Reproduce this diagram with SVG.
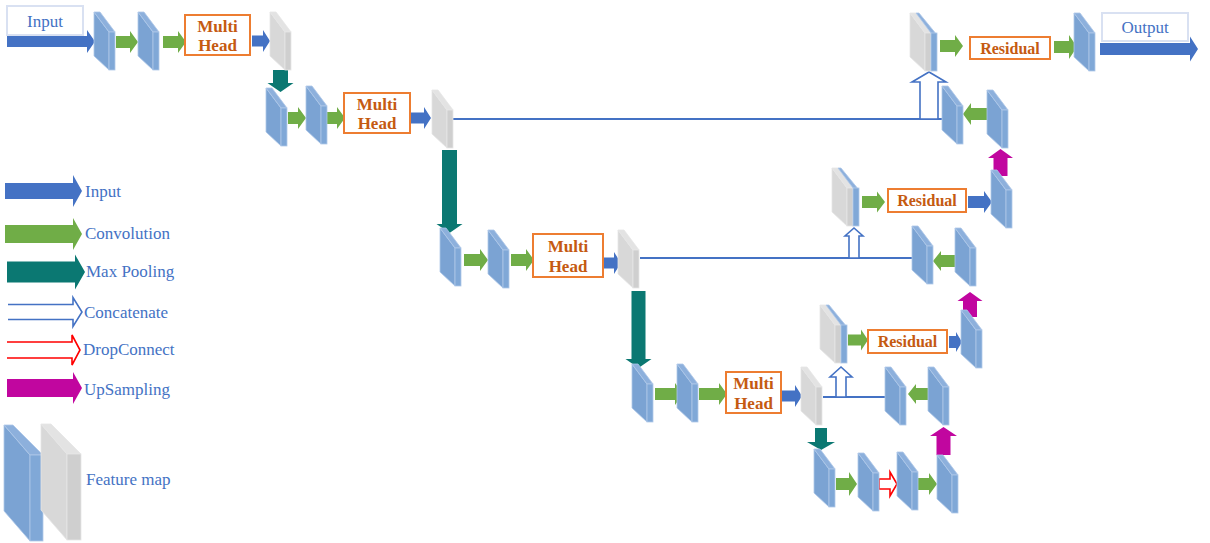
<svg xmlns="http://www.w3.org/2000/svg" xmlns:xlink="http://www.w3.org/1999/xlink" width="1210" height="543" viewBox="0 0 1210 543">
<style>
.blue{fill:#4472C4}
.green{fill:#70AD47}
.teal{fill:#0B7872}
.mag{fill:#C1069F}
.cat{fill:#fff;stroke:#4472C4;stroke-width:1.6}
.drop{fill:#fff;stroke:#FF0000;stroke-width:1.6}
.box{fill:#fff;stroke:#ED7D31;stroke-width:2}
.iobox{fill:#fff;stroke:#D9E1F2;stroke-width:2}
.bt{font-family:"Liberation Serif","Times New Roman",serif;font-weight:bold;font-size:17px;fill:#C55A11;text-anchor:middle}
.rt{font-family:"Liberation Serif","Times New Roman",serif;font-weight:bold;font-size:16px;fill:#C55A11;text-anchor:middle}
.lt{font-family:"Liberation Serif","Times New Roman",serif;font-size:17px;fill:#4472C4}
.ct{font-family:"Liberation Serif","Times New Roman",serif;font-size:17px;fill:#4472C4;text-anchor:middle}
.line{stroke:#4472C4;stroke-width:2;fill:none}
.fb{fill:#7BA3D3;stroke:#AFC8E8;stroke-width:0.8}
.fbt{fill:#8DB0DC;stroke:#AFC8E8;stroke-width:0.8}
.fbf{fill:#80A8D7;stroke:#AFC8E8;stroke-width:0.8}
.fg{fill:#D8D8D8;stroke:#E6E6E6;stroke-width:0.8}
.fgt{fill:#E3E3E3;stroke:#E6E6E6;stroke-width:0.8}
.fgf{fill:#CFCFCF;stroke:#E6E6E6;stroke-width:0.8}
</style>
<defs>
<g id="fmb">
<polygon class="fb" points="0,0 15,20 15,58 0,44"/>
<polygon class="fbt" points="0,0 6,0 21,20 15,20"/>
<rect class="fbf" x="15" y="20" width="6" height="38"/>
</g>
<g id="fmg">
<polygon class="fg" points="0,0 15,20 15,58 0,44"/>
<polygon class="fgt" points="0,0 6,0 21,20 15,20"/>
<rect class="fgf" x="15" y="20" width="6" height="38"/>
</g>
<g id="fmc">
<polygon class="fg" points="0,0 15,20 15,58 0,44"/>
<polygon class="fgt" points="0,0 6,0 21,20 15,20"/>
<rect class="fgf" x="15" y="20" width="6" height="38"/>
<polygon class="fbt" points="6,0 9,0 27,22 21,20"/>
<rect class="fbf" x="21" y="20" width="6" height="38"/>
</g>
</defs>

<g id="connectors">
<path class="line" d="M453 119 H943"/>
<path class="line" d="M640 258 H913"/>
<path class="line" d="M823 397 H886"/>
<!-- row 1 -->
<path class="blue" d="M7 36 H87 V30 L95 41.5 L87 53 V47 H7 Z"/>
<path class="green" d="M116 36 H130 V31 L138 42 L130 53 V48 H116 Z"/>
<path class="green" d="M163 36 H178 V31 L186 42 L178 53 V48 H163 Z"/>
<path class="blue" d="M252 35.5 H263 V30 L270 41 L263 52 V46.5 H252 Z"/>
<path class="teal" d="M273 70 V83 H267.5 L280.5 92 L293.5 83 H288 V70 Z"/>
<!-- row 2 -->
<path class="green" d="M288 112 H298 V107 L306 118 L298 129 V124 H288 Z"/>
<path class="green" d="M327 112 H337 V107 L345 118 L337 129 V124 H327 Z"/>
<path class="blue" d="M411 112.5 H424 V107 L431 118 L424 129 V123.5 H411 Z"/>
<path class="teal" d="M442 150 V224 H436.5 L449.5 233 L462.5 224 H457 V150 Z"/>
<!-- row 3 -->
<path class="green" d="M464 254 H480 V249 L488 260 L480 271 V266 H464 Z"/>
<path class="green" d="M511 254 H526 V249 L534 260 L526 271 V266 H511 Z"/>
<path class="blue" d="M603 257.5 H614 V252 L621 263 L614 274 V268.5 H603 Z"/>
<path class="teal" d="M631.5 291 V359 H625.5 L638.5 368 L651.5 359 H645.5 V291 Z"/>
<!-- row 4 -->
<path class="green" d="M655 388 H675 V383 L683 394 L675 405 V400 H655 Z"/>
<path class="green" d="M699 388 H719 V383 L727 394 L719 405 V400 H699 Z"/>
<path class="blue" d="M782 390.5 H795 V385 L802 396 L795 407 V401.5 H782 Z"/>
<path class="cat" d="M836 397 V377 H830 L841 367 L852 377 H846 V397 Z"/>
<path class="teal" d="M815 428 V442 H807 L821 450 L835 442 H827 V428 Z"/>
<!-- row 5 -->
<path class="green" d="M836 478 H849 V472 L857 484 L849 496 V490 H836 Z"/>
<path class="drop" d="M879 479 H890 V472 L897 484 L890 496 V489 H879 Z"/>
<path class="green" d="M917 478 H929 V473 L937 484 L929 495 V490 H917 Z"/>
<path class="mag" d="M936.5 455 V436 H930 L943.5 427 L957 436 H950.5 V455 Z"/>
<!-- decoder level 4 -->
<path class="green" d="M932 388 H916 V384 L908 394 L916 404 V400 H932 Z"/>
<path class="green" d="M848 334.5 H861 V329.5 L868 340 L861 350.5 V345.5 H848 Z"/>
<path class="blue" d="M949 336 H956 V332 L962 342 L956 352 V348 H949 Z"/>
<path class="mag" d="M963 317 V301 H957.5 L970 292 L982.5 301 H977 V317 Z"/>
<!-- decoder level 3 -->
<path class="green" d="M957 255 H941 V251 L933 261 L941 271 V267 H957 Z"/>
<path class="cat" d="M849 258 V236 H845 L854 228 L863 236 H859 V258 Z"/>
<path class="green" d="M862 196 H877 V191.5 L885 202 L877 212.5 V208 H862 Z"/>
<path class="blue" d="M968 196 H984 V191 L992 202 L984 213 V208 H968 Z"/>
<path class="mag" d="M993.5 176 V158 H988 L1000.5 149 L1013 158 H1007.5 V176 Z"/>
<!-- decoder level 2 -->
<path class="green" d="M988 108 H971 V103 L963 114 L971 125 V120 H988 Z"/>
<path class="cat" d="M920 119 V82 H912 L929 72 L946 82 H938 V119 Z"/>
<path class="green" d="M940 40 H955 V35 L963 46 L955 57 V52 H940 Z"/>
<path class="green" d="M1054 41 H1069 V35 L1077 47 L1069 59 V53 H1054 Z"/>
<path class="blue" d="M1100 43 H1190 V36.5 L1198 49 L1190 61.5 V55 H1100 Z"/>
</g>

<g id="input-label"><rect class="iobox" x="7" y="6" width="76" height="29"/><text class="ct" x="45" y="27">Input</text></g>
<g id="output-label"><rect class="iobox" x="1102" y="13" width="86" height="28"/><text class="ct" x="1145" y="33">Output</text></g>

<g id="A1"><use href="#fmb" x="94" y="12"/></g>
<g id="A2"><use href="#fmb" x="138" y="12"/></g>
<g id="MH1"><rect class="box" x="185" y="15" width="65" height="40"/><text class="bt" x="217.5" y="32">Multi</text><text class="bt" x="217.5" y="51">Head</text></g>
<g id="G1"><use href="#fmg" x="270" y="12"/></g>

<g id="B1"><use href="#fmb" x="266" y="88"/></g>
<g id="B2"><use href="#fmb" x="306" y="86"/></g>
<g id="MH2"><rect class="box" x="344" y="93" width="66" height="40"/><text class="bt" x="377" y="110">Multi</text><text class="bt" x="377" y="129">Head</text></g>
<g id="G2"><use href="#fmg" x="432" y="90"/></g>

<g id="C1"><use href="#fmb" x="440" y="228"/></g>
<g id="C2"><use href="#fmb" x="488" y="230"/></g>
<g id="MH3"><rect class="box" x="533" y="234" width="70" height="43"/><text class="bt" x="568" y="252">Multi</text><text class="bt" x="568" y="272">Head</text></g>
<g id="G3"><use href="#fmg" x="618" y="230"/></g>

<g id="D1"><use href="#fmb" x="632" y="364"/></g>
<g id="D2"><use href="#fmb" x="677" y="364"/></g>
<g id="MH4"><rect class="box" x="726" y="372" width="55" height="41"/><text class="bt" x="753.5" y="389">Multi</text><text class="bt" x="753.5" y="409">Head</text></g>
<g id="G4"><use href="#fmg" x="801" y="367"/></g>

<g id="E1"><use href="#fmb" x="814" y="449"/></g>
<g id="E2"><use href="#fmb" x="858" y="453"/></g>
<g id="E3"><use href="#fmb" x="897" y="452"/></g>
<g id="E4"><use href="#fmb" x="937" y="455"/></g>

<g id="F1"><use href="#fmb" x="885" y="367"/></g>
<g id="F2"><use href="#fmb" x="928" y="367"/></g>
<g id="R4"><use href="#fmc" x="820" y="305"/></g>
<g id="RES4"><rect class="box" x="868" y="330" width="79" height="23"/><text class="rt" x="907.5" y="347">Residual</text></g>
<g id="F3"><use href="#fmb" x="961" y="310"/></g>

<g id="H1"><use href="#fmb" x="912" y="226"/></g>
<g id="H2"><use href="#fmb" x="955" y="228"/></g>
<g id="R3"><use href="#fmc" x="832" y="168"/></g>
<g id="RES3"><rect class="box" x="888" y="189" width="78" height="23"/><text class="rt" x="927" y="206">Residual</text></g>
<g id="H3"><use href="#fmb" x="991" y="170"/></g>

<g id="K1"><use href="#fmb" x="942" y="86"/></g>
<g id="K2"><use href="#fmb" x="987" y="90"/></g>
<g id="R2"><use href="#fmc" x="910" y="13"/></g>
<g id="RES2"><rect class="box" x="970" y="37" width="80" height="22"/><text class="rt" x="1010" y="54">Residual</text></g>
<g id="K3"><use href="#fmb" x="1074" y="13"/></g>

<g id="legend">
<path class="blue" d="M5 183 H73 V175 L82 191 L73 207 V199 H5 Z"/>
<text class="lt" x="85" y="197">Input</text>
<path class="green" d="M5 225 H73 V218 L82 234 L73 250 V243 H5 Z"/>
<text class="lt" x="85" y="239">Convolution</text>
<path class="teal" d="M7 261.5 H75 V254.5 L85 272 L75 289.5 V282.5 H7 Z"/>
<text class="lt" x="86" y="277">Max Pooling</text>
<path class="cat" d="M8 304.5 H73 V297.5 L82 312 L73 326.5 V319.5 H8"/>
<text class="lt" x="84" y="318">Concatenate</text>
<path class="drop" d="M7 342 H72 V335 L80 350 L72 365 V358 H7"/>
<text class="lt" x="83" y="355">DropConnect</text>
<path class="mag" d="M7 379 H73 V372 L82 388 L73 404 V397 H7 Z"/>
<text class="lt" x="84" y="395">UpSampling</text>
<g>
<polygon class="fb" points="4,425 30,455 30,541 4,511"/>
<polygon class="fbt" points="4,425 13,425 43,455 30,455"/>
<rect class="fbf" x="30" y="455" width="13" height="86"/>
</g>
<g>
<polygon class="fg" points="41,424 67,454 67,540 41,510"/>
<polygon class="fgt" points="41,424 51,424 81,454 67,454"/>
<rect class="fgf" x="67" y="454" width="14" height="86"/>
</g>
<text class="lt" x="86" y="485">Feature map</text>
</g>
</svg>
